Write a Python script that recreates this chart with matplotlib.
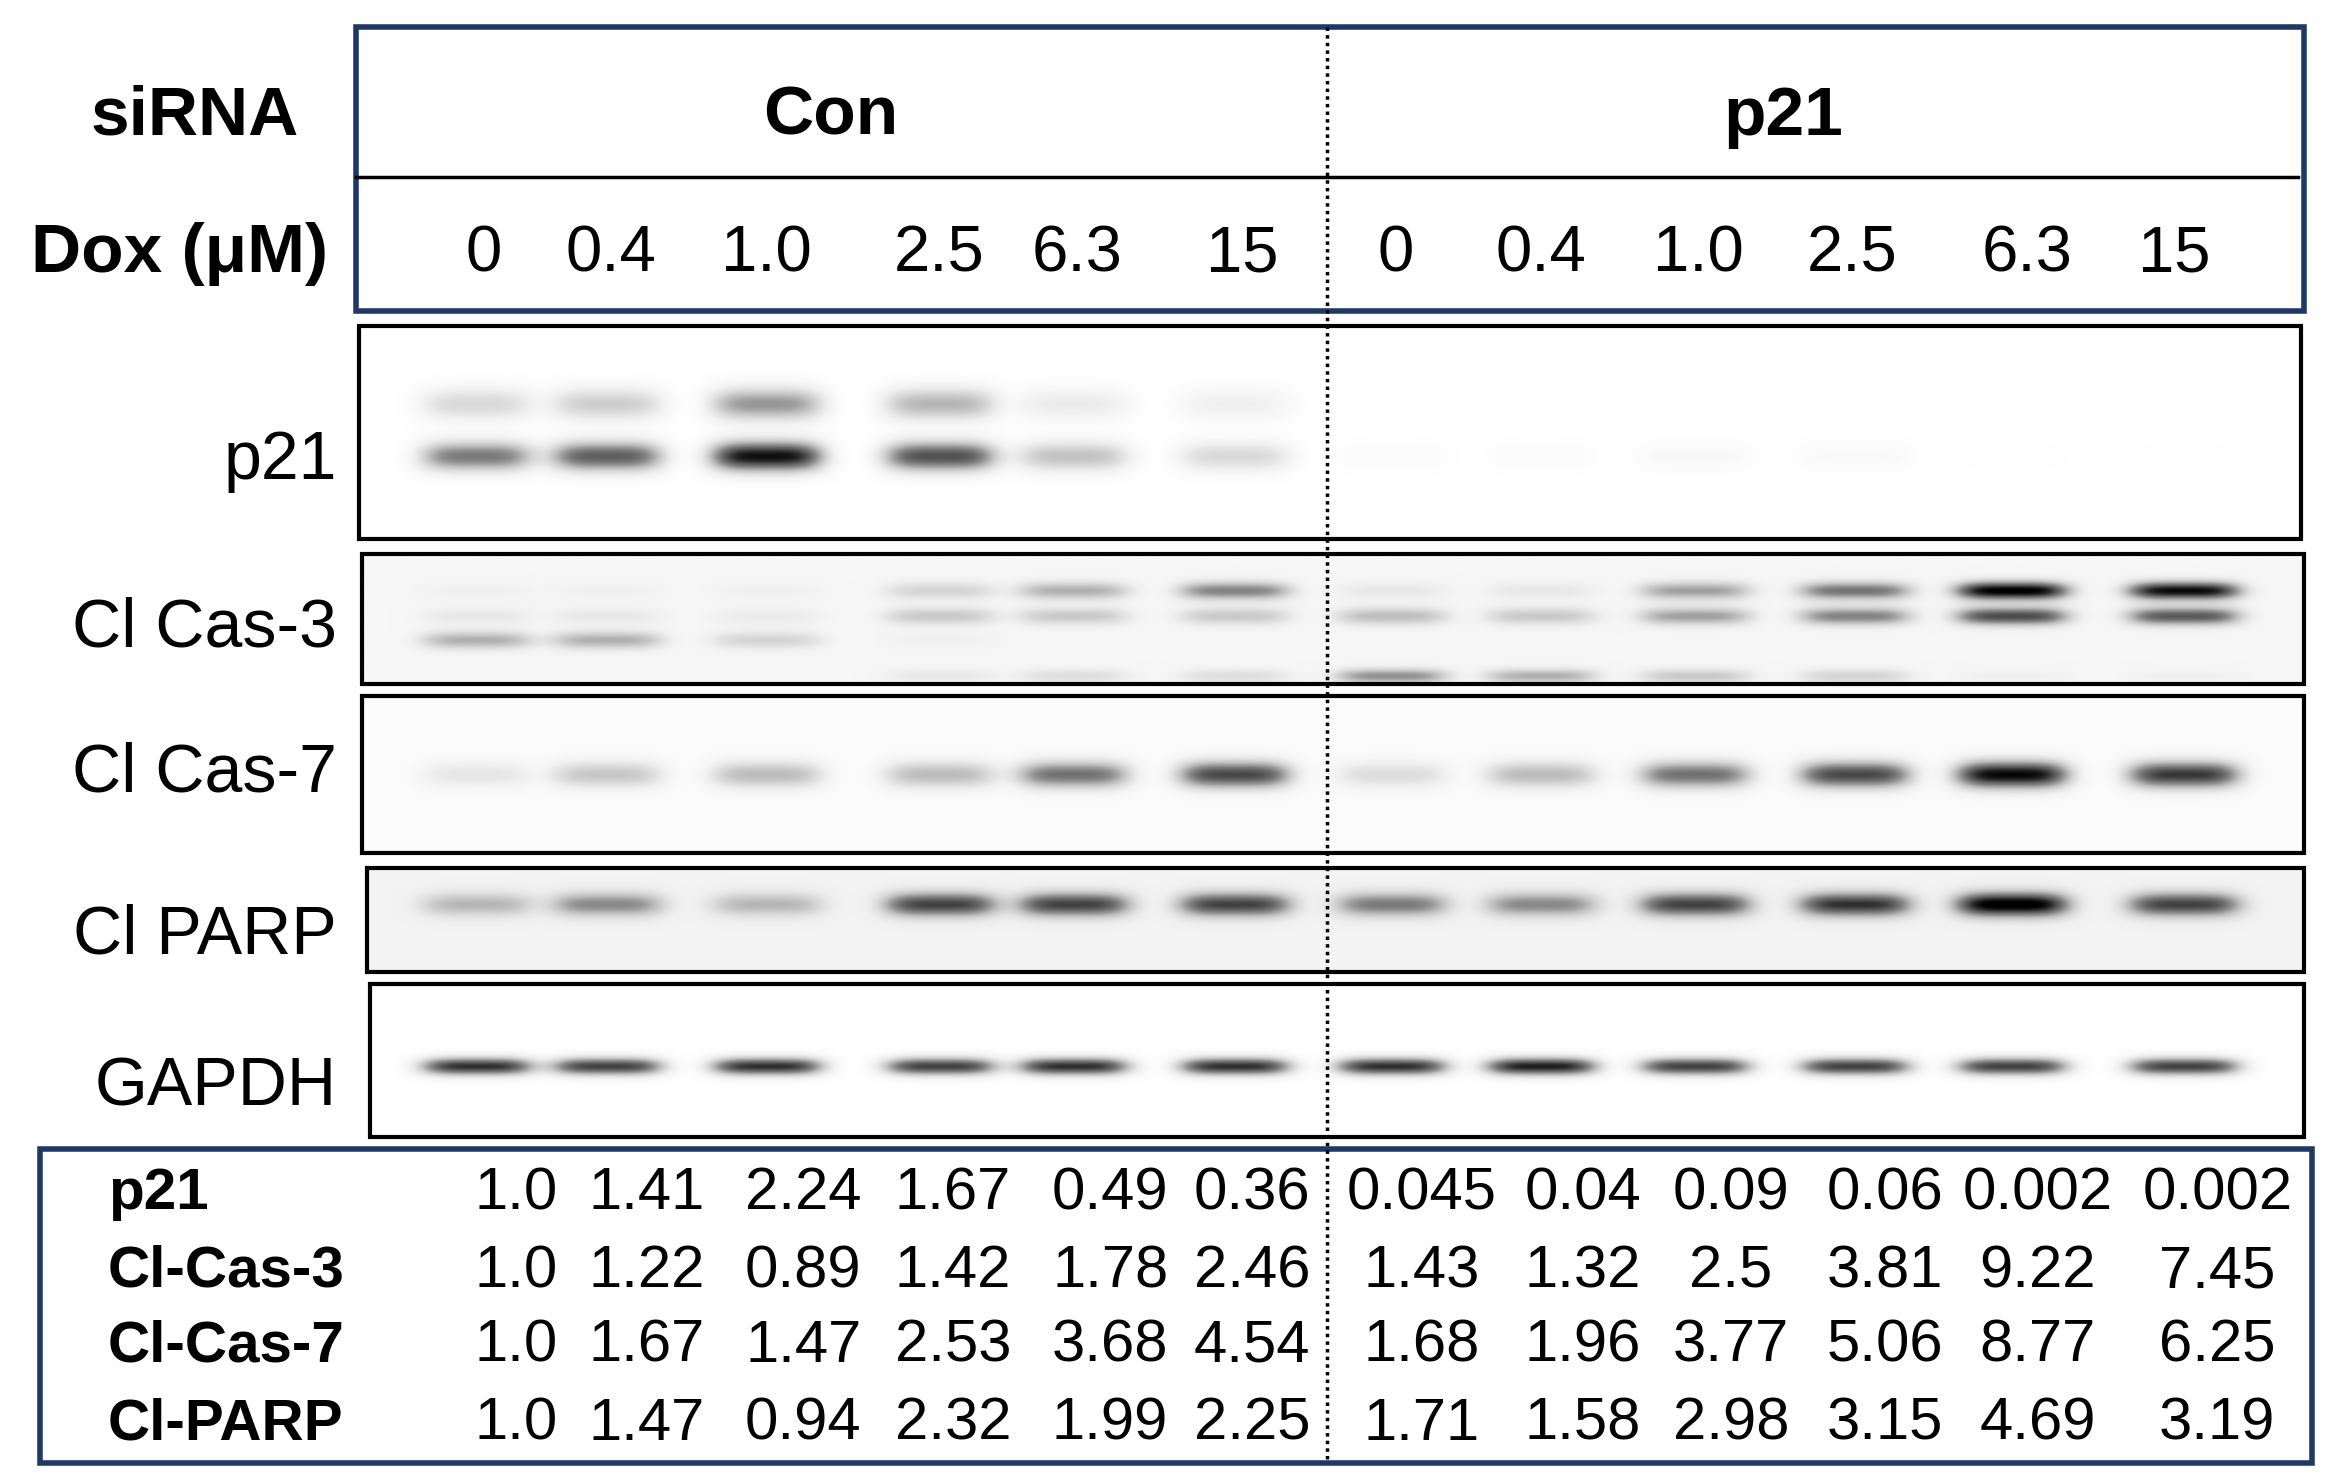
import numpy as np
import matplotlib
matplotlib.use("Agg")
import matplotlib.pyplot as plt
from matplotlib.patches import Rectangle

plt.rcParams['font.family'] = ['Liberation Sans', 'DejaVu Sans']

dox_labels = ["0", "0.4", "1.0", "2.5", "6.3", "15"]
groups = ["Con", "p21"]
blot_names = ["p21", "Cl Cas-3", "Cl Cas-7", "Cl PARP", "GAPDH"]
row_names = ["p21", "Cl-Cas-3", "Cl-Cas-7", "Cl-PARP"]
quant = [
    ["1.0", "1.41", "2.24", "1.67", "0.49", "0.36", "0.045", "0.04", "0.09", "0.06", "0.002", "0.002"],
    ["1.0", "1.22", "0.89", "1.42", "1.78", "2.46", "1.43", "1.32", "2.5", "3.81", "9.22", "7.45"],
    ["1.0", "1.67", "1.47", "2.53", "3.68", "4.54", "1.68", "1.96", "3.77", "5.06", "8.77", "6.25"],
    ["1.0", "1.47", "0.94", "2.32", "1.99", "2.25", "1.71", "1.58", "2.98", "3.15", "4.69", "3.19"],
]
# band darkness (0..1) per lane, read visually
p21_low = [0.6, 0.7, 0.95, 0.75, 0.35, 0.25, 0.03, 0.03, 0.06, 0.05, 0.01, 0.01]
p21_up = [0.25, 0.3, 0.5, 0.4, 0.15, 0.12, 0, 0, 0, 0, 0, 0]
cas3_up = [0.05, 0.05, 0.05, 0.2, 0.35, 0.5, 0.1, 0.1, 0.4, 0.55, 0.95, 0.9]
cas3_mid = [0.1, 0.1, 0.08, 0.25, 0.25, 0.25, 0.3, 0.25, 0.4, 0.5, 0.7, 0.65]
cas3_low = [0.35, 0.35, 0.2, 0.05, 0, 0, 0, 0, 0, 0, 0, 0]
cas3_bot = [0, 0, 0, 0.1, 0.15, 0.15, 0.45, 0.35, 0.25, 0.2, 0.05, 0.05]
cas7 = [0.15, 0.3, 0.35, 0.35, 0.6, 0.75, 0.2, 0.35, 0.6, 0.75, 0.95, 0.8]
parp = [0.3, 0.45, 0.3, 0.7, 0.7, 0.7, 0.5, 0.45, 0.7, 0.75, 0.95, 0.7]
gapdh = [0.85, 0.8, 0.85, 0.8, 0.85, 0.85, 0.85, 0.9, 0.8, 0.8, 0.8, 0.8]

lane_x = [318, 405, 512, 628, 717, 825, 930, 1030, 1133, 1240, 1345, 1460]
dox_x = [323, 408, 512, 628, 720, 830, 933, 1030, 1135, 1238, 1355, 1453]
val_x = [345, 432, 537, 637, 742, 837, 950, 1058, 1157, 1260, 1362, 1482]

W, H = 1560, 986.6
fig = plt.figure(figsize=(23.34, 14.76), dpi=100)
ax = fig.add_axes([0, 0, 1, 1])
ax.set_xlim(0, W); ax.set_ylim(H, 0); ax.axis('off')
navy = '#1f3864'

# header
ax.add_patch(Rectangle((238, 18), 1302, 190, fill=False, ec=navy, lw=4))
ax.plot([238, 1536], [118, 118], color='black', lw=2.5)
ax.text(130, 78, "siRNA", fontsize=50, fontweight='bold', ha='center', va='center')
ax.text(555, 78, groups[0], fontsize=50, fontweight='bold', ha='center', va='center')
ax.text(1192, 78, groups[1], fontsize=50, fontweight='bold', ha='center', va='center')
ax.text(120, 170, "Dox (μM)", fontsize=50, fontweight='bold', ha='center', va='center')
for i, x in enumerate(dox_x):
    ax.text(x, 170, dox_labels[i % 6], fontsize=47, ha='center', va='center')

panels = [
    (240, 218, 1298, 142, 0.0, [(305, p21_low, 10), (270, p21_up, 11)]),
    (242, 370, 1298, 87, 0.07, [(395, cas3_up, 6), (412, cas3_mid, 6), (428, cas3_low, 6), (452, cas3_bot, 5)]),
    (242, 465, 1298, 105, 0.03, [(518, cas7, 9)]),
    (245, 580, 1295, 70, 0.1, [(605, parp, 8)]),
    (247, 658, 1293, 102, 0.0, [(713, gapdh, 6)]),
]
label_y = [308, 420, 517, 625, 727]
for (x0, y0, w, h, bg, bands), name, ly in zip(panels, blot_names, label_y):
    xs = np.linspace(x0, x0 + w, 700)
    ys = np.linspace(y0, y0 + h, 200)
    X, Y = np.meshgrid(xs, ys)
    img = np.full(X.shape, bg)
    for yc, vals, sig in bands:
        for lx, v in zip(lane_x, vals):
            img += v * np.exp(-((X - lx) / 38) ** 4) * np.exp(-((Y - yc) / sig) ** 2)
    img = np.clip(img, 0, 1)
    ax.imshow(img, cmap='Greys', vmin=0, vmax=1, extent=(x0, x0 + w, y0 + h, y0),
              aspect='auto', interpolation='bilinear', zorder=1)
    ax.add_patch(Rectangle((x0, y0), w, h, fill=False, ec='black', lw=3, zorder=2))
    ax.text(225, ly, name, fontsize=49, ha='right', va='center')

# table
ax.add_patch(Rectangle((27, 768), 1518, 210, fill=False, ec=navy, lw=4))
row_y = [798, 850, 900, 952]
for r, (nm, ry) in enumerate(zip(row_names, row_y)):
    ax.text(72, ry, nm, fontsize=42, fontweight='bold', ha='left', va='center')
    for x, v in zip(val_x, quant[r]):
        ax.text(x, ry, v, fontsize=43, ha='center', va='center')

ax.plot([887, 887], [18, 978], color='black', lw=2.5, ls=(0, (1, 1.2)), zorder=3)
fig.savefig("out.png", dpi=100)
